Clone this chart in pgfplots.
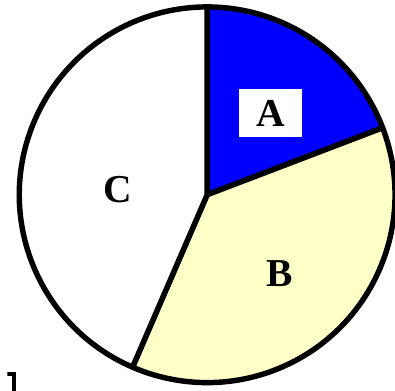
\documentclass[border=0pt]{standalone}
\usepackage{fontspec}
\setmainfont{Liberation Serif}
\usepackage{pgfplots}
\usepackage{pgfplotstable}
\pgfplotsset{compat=1.18}
\definecolor{sliceA}{HTML}{0000FF}
\definecolor{sliceB}{HTML}{FFFFC8}
\definecolor{sliceC}{HTML}{FFFFFF}

% shares in percent, clockwise from 12 o'clock
\pgfplotstableread{
label value
A 19.2
B 37.3
C 43.5
}\piedata

\begin{document}
\pgfplotstablegetelem{0}{value}\of\piedata \let\va\pgfplotsretval
\pgfplotstablegetelem{1}{value}\of\piedata \let\vb\pgfplotsretval
\pgfplotstablegetelem{2}{value}\of\piedata \let\vc\pgfplotsretval
\pgfmathsetmacro\angA{90-3.6*\va}
\pgfmathsetmacro\angB{\angA-3.6*\vb}
\pgfmathsetmacro\angC{\angB-3.6*\vc}
\begin{tikzpicture}
\begin{axis}[
    scale only axis,
    width=392pt, height=395pt,
    xmin=0, xmax=392, ymin=0, ymax=395,
    hide axis,
]
\def\cx{202}\def\cy{198}\def\r{190pt}
\filldraw[fill=sliceA, draw=black, line width=5.5pt, line join=round]
    (axis cs:\cx,\cy) -- ++(90:\r) arc[start angle=90, end angle=\angA, radius=\r] -- cycle;
\filldraw[fill=sliceB, draw=black, line width=5.5pt, line join=round]
    (axis cs:\cx,\cy) -- ++(\angA:\r) arc[start angle=\angA, end angle=\angB, radius=\r] -- cycle;
\filldraw[fill=sliceC, draw=black, line width=5.5pt, line join=round]
    (axis cs:\cx,\cy) -- ++(\angB:\r) arc[start angle=\angB, end angle=\angC, radius=\r] -- cycle;

\node[fill=white, minimum width=64pt, minimum height=49pt, inner sep=0pt,
      font=\fontsize{40}{44}\selectfont\bfseries] at (axis cs:266,280.5) {A};
\node[font=\fontsize{40}{44}\selectfont\bfseries] at (axis cs:275,118) {B};
\node[font=\fontsize{40}{44}\selectfont\bfseries] at (axis cs:112,203) {C};

% stray corner at the bottom left
\draw[line width=4pt] (axis cs:0,17) -- (axis cs:7,17) -- (axis cs:7,0);
\end{axis}
\pgfresetboundingbox
\useasboundingbox (current axis.south west) rectangle (current axis.north east);
\end{tikzpicture}
\end{document}
